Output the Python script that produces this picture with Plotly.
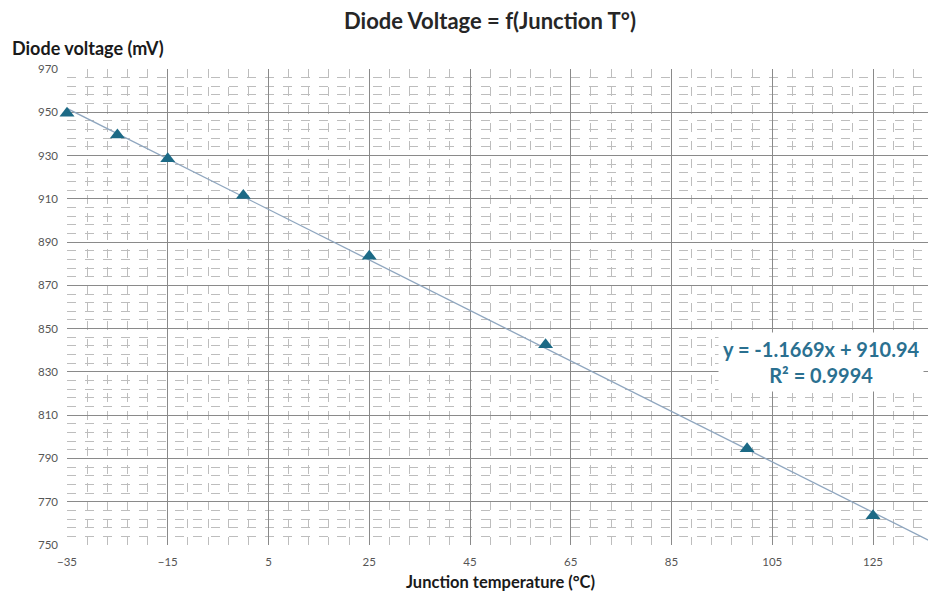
import plotly.graph_objects as go
import numpy as np

# Data
temperature_c = [-35, -25, -15, 0, 25, 60, 100, 125]
diode_mv = [949.5, 939.5, 928.5, 911.5, 883.5, 842.5, 794.5, 763.5]

# Displayed trendline coefficients
trend_slope = -1.1669
trend_intercept = 910.94
trend_r2 = 0.9994

x_range = [-35, 137.5]
y_range = [750, 970]

trend_x = np.array(x_range, dtype=float)
trend_y = trend_slope * trend_x + trend_intercept

FONT = "Lato"
teal = "#1c6a86"

# Page has an 8px body margin; figure size and margins account for it
W, H = 928, 587
L, R, T, B = 59, 0, 61, 50
PW, PH = W - L - R, H - T - B

fig = go.Figure()
fig.add_trace(go.Scatter(x=trend_x, y=trend_y, mode="lines",
                         line=dict(color="#8fa6bf", width=1.3),
                         hoverinfo="skip", showlegend=False))
fig.add_trace(go.Scatter(x=temperature_c, y=diode_mv, mode="markers",
                         marker=dict(symbol="triangle-up", size=13, color=teal),
                         cliponaxis=False, showlegend=False))

fig.add_annotation(
    x=(813 - L) / PW, y=1 - (354 - T) / PH, xref="x domain", yref="y domain",
    xanchor="center", yanchor="middle",
    text=f"y = {trend_slope}x + {trend_intercept}<br>R² = {trend_r2}",
    showarrow=False, align="center",
    font=dict(family=FONT, size=20, color="#2a7090", weight="bold"),
    bgcolor="white", borderpad=4,
)
fig.add_annotation(x=(2 - L) / PW, y=1 + (T - 40) / PH, xref="x domain", yref="y domain",
                   text="<b>Diode voltage (mV)</b>", showarrow=False,
                   font=dict(family=FONT, size=18, color="#1a1a1a"),
                   xanchor="left", yanchor="middle")
fig.add_annotation(x=(492 - L) / PW, y=-(574 - (T + PH)) / PH, xref="x domain", yref="y domain",
                   text="<b>Junction temperature (°C)</b>", showarrow=False,
                   font=dict(family=FONT, size=16.5, color="#1a1a1a"),
                   xanchor="center", yanchor="middle")

fig.update_layout(
    width=W, height=H,
    margin=dict(l=L, r=R, t=T, b=B),
    paper_bgcolor="white", plot_bgcolor="white",
    title=dict(text="<b>Diode Voltage = f(Junction T°)</b>", x=482 / W, xanchor="center",
               xref="container", yref="container",
               y=1 - 13 / H, yanchor="middle",
               font=dict(family=FONT, size=22, color="#262626")),
    font=dict(family=FONT),
)

fig.update_xaxes(
    range=x_range, tick0=-35, dtick=20, tickmode="linear",
    showgrid=True, gridcolor="#8a8a8a", gridwidth=1,
    zeroline=False, showline=False, ticks="", automargin=False,
    ticklabelstandoff=8,
    tickfont=dict(family=FONT, size=11.5, color="#555555"),
    minor=dict(tick0=-35, dtick=4, showgrid=True, gridcolor="#bdbdbd",
               griddash="dash", gridwidth=1),
)
fig.update_yaxes(
    range=y_range, tick0=750, dtick=20, tickmode="linear",
    showgrid=True, gridcolor="#8a8a8a", gridwidth=1,
    zeroline=False, showline=False, ticks="", automargin=False,
    ticklabelstandoff=8,
    tickfont=dict(family=FONT, size=11.5, color="#555555"),
    minor=dict(tick0=750, dtick=4, showgrid=True, gridcolor="#bdbdbd",
               griddash="dash", gridwidth=1),
)

fig.write_html("out.html")
